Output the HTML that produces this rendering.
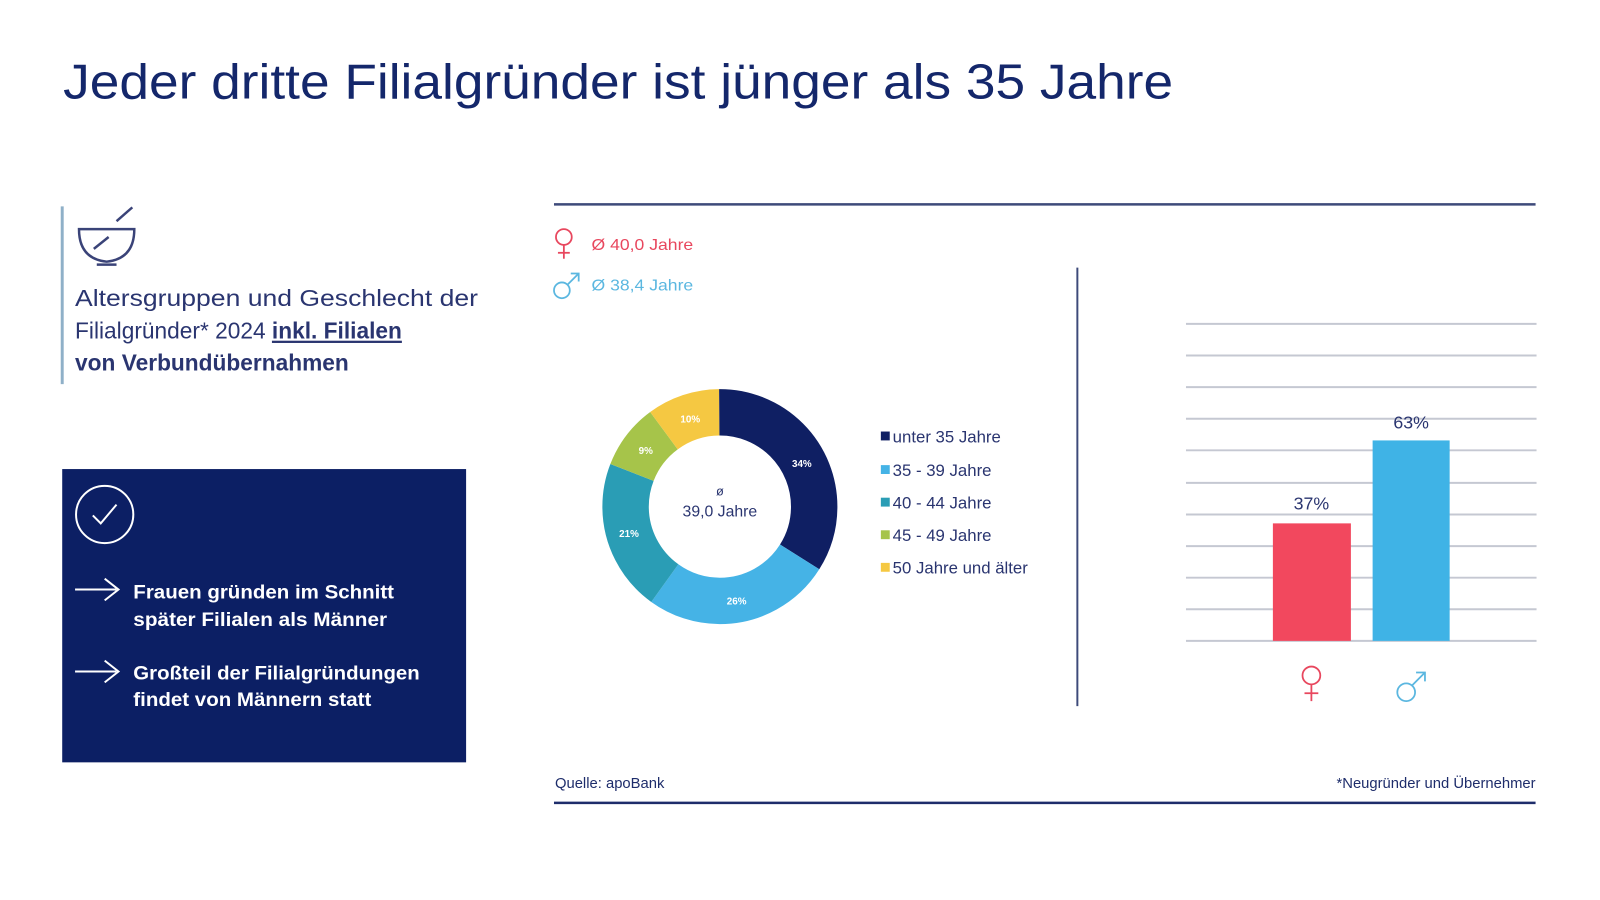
<!DOCTYPE html>
<html><head><meta charset="utf-8"><style>html,body{margin:0;padding:0;background:#fff}svg{display:block}</style></head>
<body>
<svg width="1600" height="900" viewBox="0 0 1600 900" xmlns="http://www.w3.org/2000/svg" font-family="Liberation Sans, Arial, sans-serif">
<rect width="1600" height="900" fill="#fff"/>
<g transform="scale(0.9875)">
<text x="64" y="100" font-size="50" fill="#14276b" textLength="1124" lengthAdjust="spacingAndGlyphs">Jeder dritte Filialgründer ist jünger als 35 Jahre</text>

<line x1="63" y1="209" x2="63" y2="389" stroke="#8fb0c8" stroke-width="3"/>
<g fill="none" stroke="#3a4378" stroke-width="2.5">
<path d="M80 232 L136 232 Q136 262 108 265 Q80 262 80 232 Z"/>
<line x1="98" y1="268" x2="118" y2="268"/>
<line x1="95" y1="252" x2="110" y2="240"/>
<line x1="118" y1="224" x2="134" y2="210"/>
</g>
<g font-size="23" fill="#2a3570">
<text x="76" y="310" textLength="408" lengthAdjust="spacingAndGlyphs">Altersgruppen und Geschlecht der</text>
<text x="76" y="343">Filialgründer* 2024 <tspan font-weight="bold" text-decoration="underline">inkl. Filialen</tspan></text>
<text x="76" y="375" font-weight="bold">von Verbundübernahmen</text>
</g>

<rect x="63" y="475" width="409" height="297" fill="#0c1f64"/>
<circle cx="106" cy="521" r="29" fill="none" stroke="#fff" stroke-width="2"/>
<path d="M94 522 L102 530 L118 511" fill="none" stroke="#fff" stroke-width="2"/>
<g fill="none" stroke="#fff" stroke-width="2">
<path d="M76 597 L118 597 M106 586 L120 597 L106 608"/>
<path d="M76 680 L118 680 M106 669 L120 680 L106 691"/>
</g>
<g font-size="20" fill="#fff" font-weight="bold">
<text x="135" y="606" textLength="264" lengthAdjust="spacingAndGlyphs">Frauen gründen im Schnitt</text>
<text x="135" y="634" textLength="257" lengthAdjust="spacingAndGlyphs">später Filialen als Männer</text>
<text x="135" y="688" textLength="290" lengthAdjust="spacingAndGlyphs">Großteil der Filialgründungen</text>
<text x="135" y="715" textLength="241" lengthAdjust="spacingAndGlyphs">findet von Männern statt</text>
</g>

<line x1="561" y1="207" x2="1555" y2="207" stroke="#3d4a7a" stroke-width="2.5"/>
<line x1="561" y1="813" x2="1555" y2="813" stroke="#1e2d6b" stroke-width="2.5"/>
<line x1="1091" y1="271" x2="1091" y2="715" stroke="#3d4a7a" stroke-width="2"/>

<g fill="none" stroke="#e8475e" stroke-width="1.8">
<circle cx="571" cy="240" r="8"/><line x1="571" y1="248" x2="571" y2="262"/><line x1="565" y1="256" x2="577" y2="256"/>
</g>
<text x="599" y="253" font-size="16" fill="#e8475e" textLength="103" lengthAdjust="spacingAndGlyphs">Ø 40,0 Jahre</text>
<g fill="none" stroke="#5bb7e0" stroke-width="1.8">
<circle cx="569" cy="294" r="8"/><line x1="575" y1="288" x2="586" y2="277"/><path d="M578 277 L586 277 L586 285"/>
</g>
<text x="599" y="294" font-size="16" fill="#5bb7e0" textLength="103" lengthAdjust="spacingAndGlyphs">Ø 38,4 Jahre</text>

<g transform="rotate(-90 729 513)" fill="none" stroke-width="47">
<circle cx="729" cy="513" r="95.5" pathLength="100" stroke="#0f1f63" stroke-dasharray="34 66"/>
<circle cx="729" cy="513" r="95.5" pathLength="100" stroke="#45b3e6" stroke-dasharray="26 74" stroke-dashoffset="-34"/>
<circle cx="729" cy="513" r="95.5" pathLength="100" stroke="#2a9db5" stroke-dasharray="21 79" stroke-dashoffset="-60"/>
<circle cx="729" cy="513" r="95.5" pathLength="100" stroke="#a6c44a" stroke-dasharray="9 91" stroke-dashoffset="-81"/>
<circle cx="729" cy="513" r="95.5" pathLength="100" stroke="#f5c842" stroke-dasharray="10 90" stroke-dashoffset="-90"/>
</g>
<g font-size="10" font-weight="bold" fill="#fff" text-anchor="middle">
<text x="812" y="473">34%</text><text x="746" y="612">26%</text><text x="637" y="544">21%</text><text x="654" y="460">9%</text><text x="699" y="428">10%</text>
</g>
<text x="729" y="502" font-size="13" fill="#2a3570" text-anchor="middle">ø</text>
<text x="729" y="523" font-size="16" fill="#2a3570" text-anchor="middle">39,0 Jahre</text>

<g font-size="17" fill="#2a3570">
<rect x="892" y="437" width="9" height="9" fill="#0f1f63"/><text x="904" y="448">unter 35 Jahre</text>
<rect x="892" y="471" width="9" height="9" fill="#45b3e6"/><text x="904" y="482">35 - 39 Jahre</text>
<rect x="892" y="504" width="9" height="9" fill="#2a9db5"/><text x="904" y="515">40 - 44 Jahre</text>
<rect x="892" y="537" width="9" height="9" fill="#a6c44a"/><text x="904" y="548">45 - 49 Jahre</text>
<rect x="892" y="570" width="9" height="9" fill="#f5c842"/><text x="904" y="581">50 Jahre und älter</text>
</g>

<g stroke="#c5c8d2" stroke-width="2">
<line x1="1201" y1="328" x2="1556" y2="328"/><line x1="1201" y1="360" x2="1556" y2="360"/>
<line x1="1201" y1="392" x2="1556" y2="392"/><line x1="1201" y1="424" x2="1556" y2="424"/>
<line x1="1201" y1="456" x2="1556" y2="456"/><line x1="1201" y1="489" x2="1556" y2="489"/>
<line x1="1201" y1="521" x2="1556" y2="521"/><line x1="1201" y1="553" x2="1556" y2="553"/>
<line x1="1201" y1="585" x2="1556" y2="585"/><line x1="1201" y1="617" x2="1556" y2="617"/>
<line x1="1201" y1="649" x2="1556" y2="649"/>
</g>
<rect x="1289" y="530" width="79" height="119" fill="#f2485e"/>
<rect x="1390" y="446" width="78" height="203" fill="#3fb3e6"/>
<text x="1328" y="516" font-size="18" fill="#2a3570" text-anchor="middle">37%</text>
<text x="1429" y="434" font-size="18" fill="#2a3570" text-anchor="middle">63%</text>
<g fill="none" stroke="#e8475e" stroke-width="1.8">
<circle cx="1328" cy="684" r="9"/><line x1="1328" y1="693" x2="1328" y2="710"/><line x1="1321" y1="702" x2="1335" y2="702"/>
</g>
<g fill="none" stroke="#5bb7e0" stroke-width="1.8">
<circle cx="1424" cy="701" r="9"/><line x1="1430" y1="694" x2="1443" y2="681"/><path d="M1434 681 L1443 681 L1443 690"/>
</g>

<text x="562" y="798" font-size="15" fill="#1e2d6b">Quelle: apoBank</text>
<text x="1555" y="798" font-size="15" fill="#1e2d6b" text-anchor="end">*Neugründer und Übernehmer</text>
</g>
</svg>
</body></html>
